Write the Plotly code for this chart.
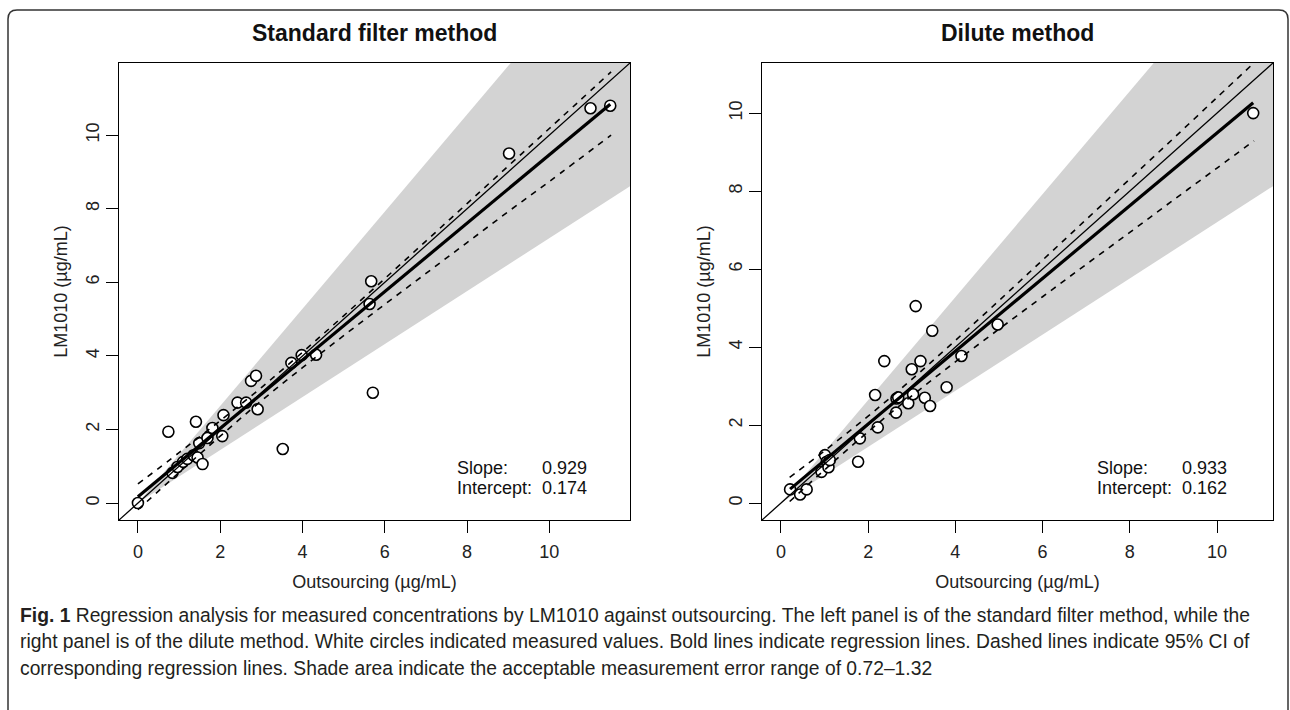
import plotly.graph_objects as go

W, H = 1290, 710

# ---------------- data ----------------
std_x = [0, 0.74, 1.41, 0.84, 0.96, 1.10, 1.20, 1.35, 1.45, 1.49, 1.57, 1.69, 1.81, 2.05, 2.08,
         2.42, 2.63, 2.75, 2.87, 2.91, 3.52, 3.73, 3.98, 4.33, 5.63, 5.67, 5.71, 9.02, 11.0, 11.48]
std_y = [0, 1.94, 2.21, 0.82, 0.98, 1.12, 1.20, 1.30, 1.24, 1.63, 1.06, 1.77, 2.04, 1.82, 2.39,
         2.73, 2.73, 3.32, 3.46, 2.55, 1.47, 3.81, 4.02, 4.03, 5.41, 6.03, 3.00, 9.50, 10.73, 10.80]

dil_x = [0.21, 0.44, 0.59, 0.93, 1.01, 1.05, 1.09, 1.12, 1.77, 1.81, 2.22, 2.16, 2.37, 2.64,
         2.65, 2.69, 2.92, 3.00, 3.03, 3.09, 3.20, 3.30, 3.42, 3.47, 3.80, 4.14, 4.97, 10.83]
dil_y = [0.35, 0.22, 0.35, 0.80, 1.23, 1.06, 0.92, 1.10, 1.06, 1.66, 1.94, 2.77, 3.64, 2.32,
         2.68, 2.71, 2.56, 3.43, 2.79, 5.05, 3.64, 2.70, 2.49, 4.42, 2.97, 3.77, 4.58, 10.00]

std_slope, std_intercept = 0.929, 0.174
dil_slope, dil_intercept = 0.933, 0.162

# 95% CI curves of regression lines
std_ci_x = [0, 1, 2, 3, 4, 5, 6, 7, 8, 9, 10, 11.5]
std_ci_upper = [0.52, 1.37, 2.24, 3.14, 4.10, 5.09, 6.10, 7.12, 8.14, 9.16, 10.18, 11.72]
std_ci_lower = [-0.18, 0.83, 1.82, 2.78, 3.68, 4.55, 5.40, 6.24, 7.08, 7.92, 8.74, 10.00]

dil_ci_x = [0.2, 1, 2, 3, 4, 5, 6, 7, 8, 9, 10, 10.85]
dil_ci_upper = [0.66, 1.34, 2.23, 3.17, 4.17, 5.19, 6.23, 7.27, 8.31, 9.35, 10.40, 11.29]
dil_ci_lower = [0.04, 0.85, 1.83, 2.75, 3.62, 4.46, 5.29, 6.12, 6.94, 7.77, 8.59, 9.29]

accept_range = [0.72, 1.32]

tick_vals = [0, 2, 4, 6, 8, 10]
tick_text = ["0", "2", "4", "6", "8", "10"]

panel_titles = ["Standard filter method", "Dilute method"]
x_title = "Outsourcing (µg/mL)"
y_title = "LM1010 (µg/mL)"

caption_lines = [
    "<b>Fig. 1</b> Regression analysis for measured concentrations by LM1010 against outsourcing. The left panel is of the standard filter method, while the",
    "right panel is of the dilute method. White circles indicated measured values. Bold lines indicate regression lines. Dashed lines indicate 95% CI of",
    "corresponding regression lines. Shade area indicate the acceptable measurement error range of 0.72\u20131.32",
]

# ---------------- layout geometry ----------------
FONT = "Liberation Sans, Arial, sans-serif"
box_top, box_bot = 63, 520
panels = [
    dict(x=std_x, y=std_y, b=std_slope, a=std_intercept, cx=std_ci_x, cu=std_ci_upper, cl=std_ci_lower,
         px0=119, px1=630, lim=(0, 11.5), tx=(455, 540)),
    dict(x=dil_x, y=dil_y, b=dil_slope, a=dil_intercept, cx=dil_ci_x, cu=dil_ci_upper, cl=dil_ci_lower,
         px0=762, px1=1273, lim=(0, 10.85), tx=(1095, 1180)),
]

fig = go.Figure()

for i, p in enumerate(panels):
    xa = "x" if i == 0 else "x2"
    ya = "y" if i == 0 else "y2"
    lo, hi = p["lim"]
    ext = 0.04 * (hi - lo)
    rng = [lo - ext, hi + ext]
    p["rng"] = rng
    big = rng[1] * 3
    # shaded acceptable range
    fig.add_trace(go.Scatter(
        x=[0, big, big, 0], y=[0, accept_range[1] * big, accept_range[0] * big, 0],
        mode="lines", fill="toself", fillcolor="#d3d3d3", line=dict(width=0),
        hoverinfo="skip", showlegend=False, xaxis=xa, yaxis=ya))
    # points
    fig.add_trace(go.Scatter(
        x=p["x"], y=p["y"], mode="markers",
        marker=dict(symbol="circle", size=11, color="white", line=dict(color="black", width=1.6)),
        showlegend=False, xaxis=xa, yaxis=ya))
    # identity line
    fig.add_trace(go.Scatter(x=[rng[0], rng[1]], y=[rng[0], rng[1]], mode="lines",
                             line=dict(color="black", width=1.3), showlegend=False,
                             hoverinfo="skip", xaxis=xa, yaxis=ya))
    # regression
    xr = [min(p["x"]), max(p["x"])]
    fig.add_trace(go.Scatter(x=xr, y=[p["a"] + p["b"] * v for v in xr], mode="lines",
                             line=dict(color="black", width=3.2), showlegend=False,
                             hoverinfo="skip", xaxis=xa, yaxis=ya))
    # CI
    for cy in (p["cu"], p["cl"]):
        fig.add_trace(go.Scatter(x=p["cx"], y=cy, mode="lines", line_shape="spline",
                                 line=dict(color="black", width=1.6, dash="6px,6px"),
                                 showlegend=False, hoverinfo="skip", xaxis=xa, yaxis=ya))
    # slope/intercept text
    for lab, val, py in (("Slope:", f"{p['b']:.3f}", 468), ("Intercept:", f"{p['a']:.3f}", 488)):
        for tx, txt in ((p["tx"][0], lab), (p["tx"][1], val)):
            fig.add_annotation(x=tx / W, y=1 - py / H, xref="paper", yref="paper",
                               xanchor="left", yanchor="middle", text=txt, showarrow=False,
                               font=dict(family=FONT, size=18, color="#111"))
    # panel title
    fig.add_annotation(x=(p["px0"] + p["px1"]) / 2 / W, y=1 - 33 / H, xref="paper", yref="paper",
                       xanchor="center", yanchor="middle",
                       text="<b>" + panel_titles[i] + "</b>", showarrow=False,
                       font=dict(family=FONT, size=23, color="#111"))

axis_common = dict(showline=True, mirror=True, linecolor="black", linewidth=1.3,
                   ticks="outside", ticklen=12, tickwidth=1.2, tickcolor="black",
                   tickvals=tick_vals, ticktext=tick_text, showgrid=False, zeroline=False,
                   tickfont=dict(family=FONT, size=18, color="#222"))

ydom = [1 - box_bot / H, 1 - box_top / H]
tfont = dict(family=FONT, size=18, color="#222")
fig.update_layout(
    width=W, height=H, margin=dict(l=0, r=0, t=0, b=0),
    paper_bgcolor="white", plot_bgcolor="white",
    xaxis=dict(domain=[panels[0]["px0"] / W, panels[0]["px1"] / W], range=panels[0]["rng"], anchor="y",
               title=dict(text=x_title, font=tfont, standoff=14), ticklabelstandoff=3, **axis_common),
    yaxis=dict(domain=ydom, range=panels[0]["rng"], anchor="x", tickangle=-90,
               title=dict(text=y_title, font=tfont, standoff=10), **axis_common),
    xaxis2=dict(domain=[panels[1]["px0"] / W, panels[1]["px1"] / W], range=panels[1]["rng"], anchor="y2",
                title=dict(text=x_title, font=tfont, standoff=14), ticklabelstandoff=3, **axis_common),
    yaxis2=dict(domain=ydom, range=panels[1]["rng"], anchor="x2", tickangle=-90,
                title=dict(text=y_title, font=tfont, standoff=10), **axis_common),
)

# caption
for k, line in enumerate(caption_lines):
    fig.add_annotation(x=18 / W, y=1 - (615 + 26.5 * k) / H, xref="paper", yref="paper",
                       xanchor="left", yanchor="middle", text=line, showarrow=False,
                       font=dict(family=FONT, size=19.3, color="#231f20"))

# outer frame with rounded top corners
r = 9
fig.add_shape(type="path", xref="paper", yref="paper",
              path=f"M {8/W} 0 L {8/W} {1-(10+r)/H} Q {8/W} {1-10/H} {(8+r)/W} {1-10/H} "
                   f"L {(W-2-r)/W} {1-10/H} Q {(W-2)/W} {1-10/H} {(W-2)/W} {1-(10+r)/H} L {(W-2)/W} 0",
              line=dict(color="#333", width=1.5))

fig.write_html("out.html", post_script="document.body.style.margin='0';",
               config={"displayModeBar": False})
